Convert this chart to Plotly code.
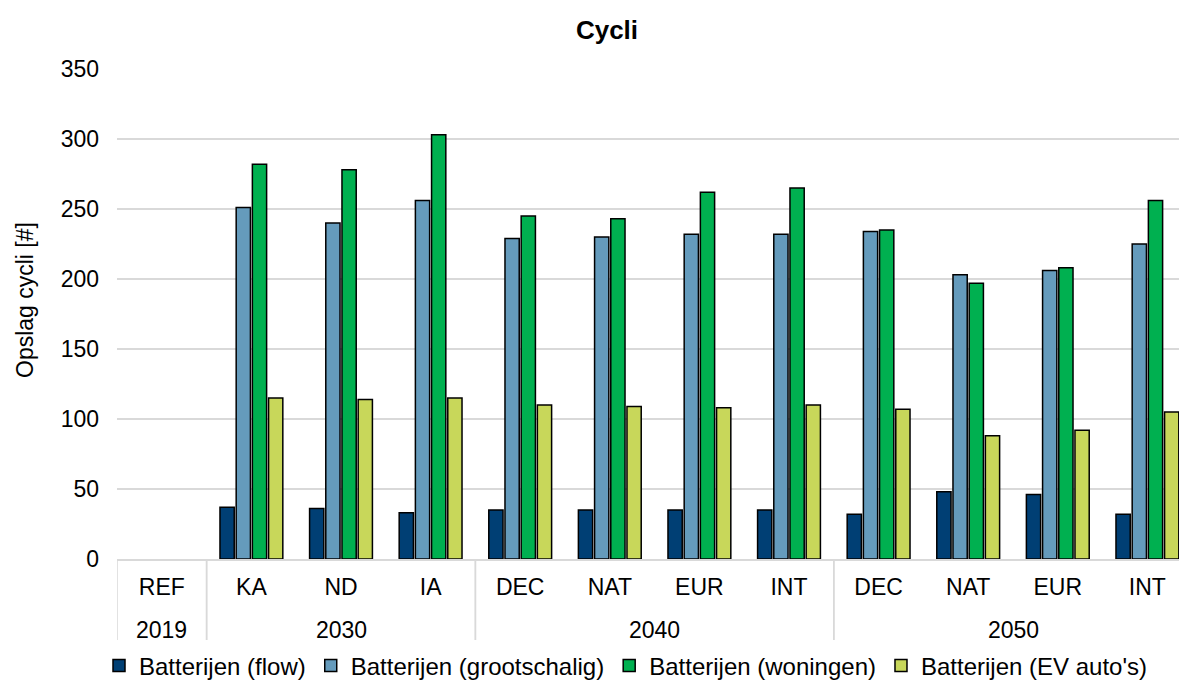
import plotly.graph_objects as go
from itertools import groupby

years = ["2019", "2030", "2030", "2030", "2040", "2040", "2040", "2040",
         "2050", "2050", "2050", "2050"]
scenarios = ["REF", "KA", "ND", "IA", "DEC", "NAT", "EUR", "INT",
             "DEC", "NAT", "EUR", "INT"]

flow = [None, 37, 36, 33, 35, 35, 35, 35, 32, 48, 46, 32]
grootschalig = [None, 251, 240, 256, 229, 230, 232, 232, 234, 203, 206, 225]
woningen = [None, 282, 278, 303, 245, 243, 262, 265, 235, 197, 208, 256]
ev_autos = [None, 115, 114, 115, 110, 109, 108, 110, 107, 88, 92, 105]

series_names = ["Batterijen (flow)", "Batterijen (grootschalig)",
                "Batterijen (woningen)", "Batterijen (EV auto's)"]
series_values = [flow, grootschalig, woningen, ev_autos]
colors = ["#003F74", "#659BBC", "#00B050", "#C8D75A"]

FONT = "Liberation Sans, Arial, sans-serif"
W, H = 1179, 680
L, T, B = 117, 69, 121
plot_w = W - L
plot_h = H - T - B
pitch = 89.6
GRID = "#D9D9D9"

idx = list(range(len(scenarios)))

fig = go.Figure()
for name, vals, col in zip(series_names, series_values, colors):
    fig.add_trace(go.Bar(
        x=idx, y=vals, name=name,
        marker=dict(color=col, line=dict(color="#000000", width=1.5)),
    ))

# group (year) labels and dividers derived from the data
annotations = []
shapes = []
pos = 0
div_y = -(640 - 559) / plot_h
for yr, grp in groupby(years):
    n = len(list(grp))
    start, end = pos, pos + n - 1
    annotations.append(dict(text=yr, xref="x", yref="paper", x=(start + end) / 2,
                            y=-(630 - 559) / plot_h, xanchor="center", yanchor="middle",
                            showarrow=False, font=dict(size=23, family=FONT, color="#000")))
    for bx in (start - 0.5, end + 0.5):
        shapes.append(dict(type="line", xref="x", yref="paper", x0=bx, x1=bx,
                           y0=0, y1=div_y, line=dict(color=GRID, width=1.5)))
    pos += n

annotations.append(dict(text="Opslag cycli [#]", textangle=-90, showarrow=False,
                        xref="paper", yref="paper", x=(25 - L) / plot_w,
                        y=(H - B - 300) / plot_h, xanchor="center",
                        yanchor="middle", font=dict(size=23, family=FONT, color="#000")))

fig.update_layout(
    width=W, height=H,
    margin=dict(l=L, r=0, t=T, b=B, pad=0),
    paper_bgcolor="white", plot_bgcolor="white",
    barmode="group", bargap=0.277, bargroupgap=0.12,
    font=dict(family=FONT, size=23, color="#000000"),
    title=dict(text="<b>Cycli</b>", font=dict(size=26, family=FONT, color="#000000"),
               xref="container", yref="container", x=607 / W, xanchor="center",
               y=1 - 30 / H, yanchor="middle"),
    showlegend=True,
    legend=dict(orientation="h", xref="container", yref="container",
                x=99 / W, xanchor="left", y=1 - 666 / H, yanchor="middle",
                font=dict(size=24, family=FONT, color="#000"), itemwidth=30,
                traceorder="normal", bgcolor="rgba(0,0,0,0)"),
    xaxis=dict(range=[-0.5, -0.5 + plot_w / pitch], tickvals=idx, ticktext=scenarios,
               showline=True, linecolor=GRID, linewidth=1.5,
               showgrid=False, zeroline=False, ticks="", ticklabelstandoff=7,
               tickfont=dict(size=23, family=FONT, color="#000000")),
    yaxis=dict(range=[0, 350], dtick=50, showgrid=True, gridcolor=GRID,
               gridwidth=1.5, zeroline=False, showline=False, ticks="",
               ticklabelstandoff=17,
               tickfont=dict(size=23, family=FONT, color="#000000")),
    annotations=annotations,
    shapes=shapes,
)

fig.write_html("out.html", config={"displayModeBar": False},
               post_script="document.body.style.margin='0';document.body.style.padding='0';")
